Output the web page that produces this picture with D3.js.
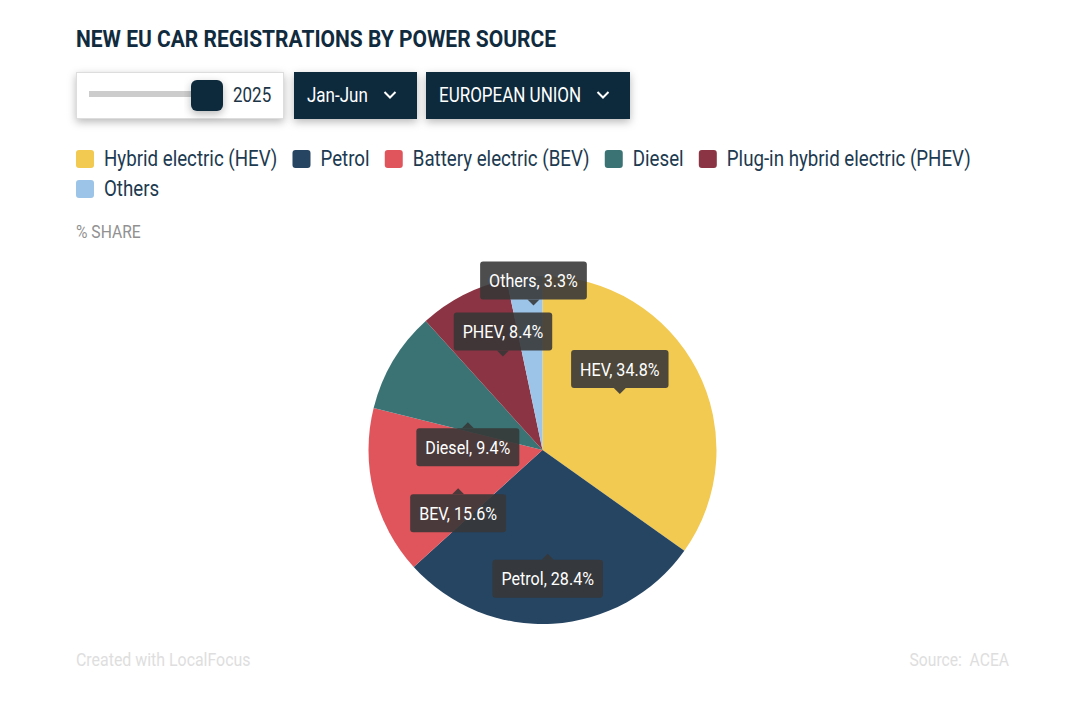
<!DOCTYPE html>
<html>
<head>
<meta charset="utf-8">
<script src="https://cdn.jsdelivr.net/npm/d3@7/dist/d3.min.js"></script>
<style>
  html, body { margin: 0; padding: 0; background: #fff; }
  svg { display: block; font-family: Roboto, sans-serif; }
</style>
</head>
<body>
<script>
const names = ["Hybrid electric (HEV)", "Petrol", "Battery electric (BEV)", "Diesel", "Plug-in hybrid electric (PHEV)", "Others"];
const shortNames = ["HEV", "Petrol", "BEV", "Diesel", "PHEV", "Others"];
const shares = [34.8, 28.4, 15.6, 9.4, 8.4, 3.3];
const colors = ["#f2c951", "#264562", "#e0555c", "#3b7375", "#8b3443", "#9cc4e8"];
const tipsBelow = ["Petrol", "BEV", "Diesel"];

const navy = "#112b3e";
const squeeze = 0.87; // Roboto Condensed is not installed, so squash Roboto

const svg = d3.select("body").append("svg").attr("width", 1080).attr("height", 720);

const defs = svg.append("defs");
const shadow = defs.append("filter").attr("id", "shadow")
    .attr("x", "-20%").attr("y", "-30%").attr("width", "140%").attr("height", "170%");
shadow.append("feDropShadow").attr("dx", 0).attr("dy", 3).attr("stdDeviation", 4)
    .attr("flood-color", "#000").attr("flood-opacity", 0.28);

function label(parent, x, y, str, size, fill, opts) {
    opts = opts || {};
    return parent.append("text")
        .attr("transform", `translate(${x},${y}) scale(${opts.sx || squeeze},1)`)
        .attr("text-anchor", opts.anchor || "start")
        .attr("font-size", size)
        .attr("font-weight", opts.weight || 400)
        .attr("fill", fill)
        .text(str);
}

label(svg, 76, 47, "NEW EU CAR REGISTRATIONS BY POWER SOURCE", 24, navy, {weight: 700, sx: 0.875});

// year slider
svg.append("rect").attr("x", 76.5).attr("y", 72.5).attr("width", 207).attr("height", 46)
    .attr("fill", "#fff").attr("stroke", "#ddd").attr("filter", "url(#shadow)");
svg.append("rect").attr("x", 89).attr("y", 91).attr("width", 116).attr("height", 6).attr("fill", "#ccc");
svg.append("rect").attr("x", 191).attr("y", 80).attr("width", 32).attr("height", 31).attr("rx", 6)
    .attr("fill", navy).attr("filter", "url(#shadow)");
label(svg, 233, 102, "2025", 20, "#1c3546", {sx: 0.85});

// dropdowns
const dropdowns = [
    {text: "Jan-Jun", x: 294, w: 123},
    {text: "EUROPEAN UNION", x: 426, w: 204}
];
dropdowns.forEach(d => {
    svg.append("rect").attr("x", d.x).attr("y", 72).attr("width", d.w).attr("height", 47)
        .attr("fill", navy).attr("filter", "url(#shadow)");
    label(svg, d.x + 13, 102, d.text, 20, "#fff", {sx: 0.85});
    const cx = d.x + d.w - 27;
    svg.append("path").attr("d", d3.line()([[cx - 5.5, 92], [cx, 97.5], [cx + 5.5, 92]]))
        .attr("fill", "none").attr("stroke", "#fff").attr("stroke-width", 2);
});

// legend, wraps at the chart width
let lx = 76, ly = 159;
names.forEach((name, i) => {
    const g = svg.append("g");
    const t = label(g, 0, 0, name, 21.5, "#1c3a50");
    const w = t.node().getComputedTextLength() * squeeze;
    if (lx + 28 + w > 1000) { lx = 76; ly += 30; }
    g.attr("transform", `translate(${lx},0)`);
    t.attr("transform", `translate(28,${ly + 7}) scale(${squeeze},1)`);
    g.append("rect").attr("x", 0).attr("y", ly - 9).attr("width", 18).attr("height", 18).attr("rx", 3)
        .attr("fill", colors[i]);
    lx += 28 + w + 15.2;
});

label(svg, 76, 238, "% SHARE", 18, "#919191");

// pie
const radius = 174;
const cx = 542.5, cy = 450;
const pie = d3.pie().sort(null).value(d => d);
const arc = d3.arc().innerRadius(0).outerRadius(radius);
const arcs = pie(shares);

const chart = svg.append("g").attr("transform", `translate(${cx},${cy})`);
chart.selectAll("path.slice")
    .data(arcs)
    .enter()
    .append("path")
    .attr("class", "slice")
    .attr("d", arc)
    .attr("fill", (d, i) => colors[i]);

// tooltips sit on the slice centroid, the Others one gets pushed up clear of PHEV
const tipFill = "rgba(55,55,55,0.89)";
arcs.forEach((d, i) => {
    const [px, py] = arc.centroid(d);
    const above = !tipsBelow.includes(shortNames[i]);
    const nudge = shortNames[i] === "Others" ? -42 : 0;
    const tipY = py + (above ? -16 : 17) + nudge;
    const boxH = 38;
    const boxY = above ? tipY - 6 - boxH : tipY + 6;
    const g = chart.append("g").attr("transform", `translate(${px},0)`);
    const t = label(g, 0, boxY + 25.5, `${shortNames[i]}, ${d.value}%`, 18.5, "#fff", {anchor: "middle"});
    const w = t.node().getComputedTextLength() * squeeze + 18;
    g.insert("rect", "text").attr("x", -w / 2).attr("y", boxY).attr("width", w).attr("height", boxH).attr("rx", 3)
        .attr("fill", tipFill);
    const base = above ? tipY - 6 : tipY + 6;
    g.insert("path", "text").attr("d", d3.line()([[-6, base], [0, tipY], [6, base]]) + "Z").attr("fill", tipFill);
});

label(svg, 76, 666, "Created with LocalFocus", 18.3, "#dedede");
label(svg, 1009, 666, "Source:  ACEA", 18, "#dedede", {anchor: "end"}).style("white-space", "pre");
</script>
</body>
</html>
